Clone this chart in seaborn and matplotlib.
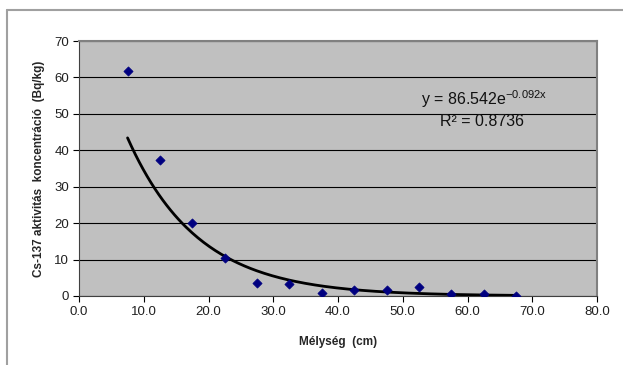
import numpy as np
import pandas as pd
import matplotlib.pyplot as plt
import seaborn as sns
from matplotlib.lines import Line2D

# depth (cm) and Cs-137 activity concentration (Bq/kg)
depth = [7.5, 12.5, 17.5, 22.5, 27.5, 32.5, 37.5, 42.5, 47.5, 52.5, 57.5, 62.5, 67.5]
activity = [61.7, 37.4, 20.0, 10.3, 3.7, 3.4, 0.7, 1.6, 1.7, 2.6, 0.5, 0.5, 0.1]

# exponential trendline shown on the chart
fit_a = 86.542
fit_b = -0.092
fit_r2 = 0.8736

x_ticks = [0, 10, 20, 30, 40, 50, 60, 70, 80]
y_ticks = [0, 10, 20, 30, 40, 50, 60, 70]

df = pd.DataFrame({"depth": depth, "activity": activity})

sns.set_theme(style="white")
plt.rcParams['font.family'] = ['Liberation Sans', 'DejaVu Sans']

fig = plt.figure(figsize=(6.23, 3.65), dpi=100)
ax = fig.add_axes([79 / 623, 1 - 296 / 365, 518 / 623, 255 / 365])
ax.set_facecolor("#C0C0C0")

# trendline over the span of the data
xs = np.linspace(min(depth), max(depth), 200)
trend = pd.DataFrame({"depth": xs, "activity": fit_a * np.exp(fit_b * xs)})
sns.lineplot(data=trend, x="depth", y="activity", ax=ax, color="black",
             linewidth=2.0, zorder=3)

sns.scatterplot(data=df, x="depth", y="activity", ax=ax, marker="D",
                color="#000080", s=22, edgecolor="#000080", linewidth=0.5,
                zorder=4)

ax.set_xlim(0, 80)
ax.set_ylim(0, 70)
ax.set_xticks(x_ticks)
ax.set_xticklabels([f"{t:.1f}" for t in x_ticks])
ax.set_yticks(y_ticks)
ax.set_yticklabels([str(t) for t in y_ticks])
ax.yaxis.grid(True, color="black", linewidth=0.8)
ax.set_axisbelow(True)

for side in ["top", "right"]:
    ax.spines[side].set_color("#808080")
    ax.spines[side].set_linewidth(1.5)
for side in ["left", "bottom"]:
    ax.spines[side].set_color("#404040")
    ax.spines[side].set_linewidth(0.8)

ax.tick_params(axis="both", direction="out", length=4, width=0.8,
               color="black", labelsize=9.5, labelcolor="#202020", pad=3)
ax.tick_params(axis="x", bottom=True)
ax.tick_params(axis="y", left=True)

ax.set_xlabel("Mélység  (cm)", fontsize=8.5, fontweight="bold", labelpad=13)
ax.set_ylabel("Cs-137 aktivitás  koncentráció  (Bq/kg)", fontsize=8.5,
              fontweight="bold", labelpad=7)

ax.text(62.5, 53.9, f"y = {fit_a:.3f}e$^{{\\mathregular{{{fit_b:.3f}x}}}}$",
        ha="center", va="center", fontsize=11.5, color="#111111")
ax.text(62.3, 47.8, f"R² = {fit_r2:.4f}", ha="center", va="center",
        fontsize=11.5, color="#111111")

# outer chart frame (top and left edges only)
fig.add_artist(Line2D([7 / 623, 1], [1 - 10 / 365, 1 - 10 / 365],
                      color="#A0A0A0", linewidth=1.5))
fig.add_artist(Line2D([7 / 623, 7 / 623], [0, 1 - 10 / 365],
                      color="#A0A0A0", linewidth=1.5))

fig.savefig("out.png", dpi=100)
